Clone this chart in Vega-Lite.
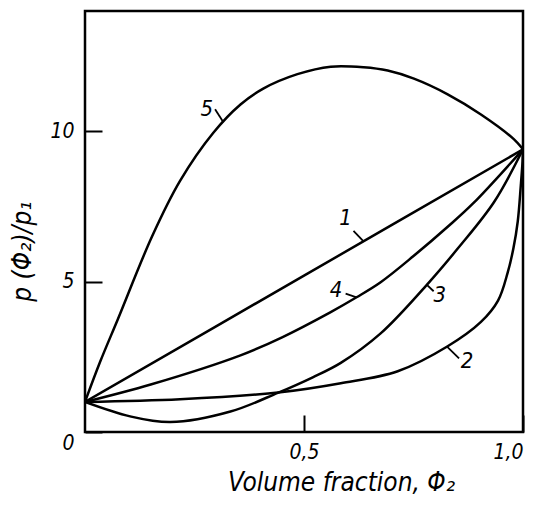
{
  "$schema": "https://vega.github.io/schema/vega-lite/v6.json",
  "width": 438,
  "height": 421,
  "autosize": {"type": "none"},
  "padding": {"left": 85, "top": 11, "right": 13, "bottom": 74},
  "background": "white",
  "config": {
    "view": {"stroke": "black", "strokeWidth": 2.5},
    "font": "DejaVu Sans Condensed, Liberation Sans Narrow, DejaVu Sans",
    "axis": {
      "grid": false,
      "domain": false,
      "tickColor": "black",
      "tickWidth": 2,
      "tickSize": -17,
      "labelColor": "black",
      "labelFont": "DejaVu Sans Condensed, Liberation Sans Narrow, DejaVu Sans",
      "labelFontStyle": "italic",
      "labelFontSize": 21,
      "titleColor": "black",
      "titleFont": "DejaVu Sans Condensed, Liberation Sans Narrow, DejaVu Sans",
      "titleFontStyle": "italic",
      "titleFontWeight": "normal",
      "titleFontSize": 26
    }
  },
  "datasets": {
    "curves": [
      {"curve": "1", "phi": 0.0, "p": 1.0},
      {"curve": "1", "phi": 0.5, "p": 5.2},
      {"curve": "1", "phi": 1.0, "p": 9.4},

      {"curve": "2", "phi": 0.0, "p": 1.0},
      {"curve": "2", "phi": 0.217, "p": 1.09},
      {"curve": "2", "phi": 0.446, "p": 1.32},
      {"curve": "2", "phi": 0.584, "p": 1.62},
      {"curve": "2", "phi": 0.714, "p": 2.02},
      {"curve": "2", "phi": 0.828, "p": 2.85},
      {"curve": "2", "phi": 0.904, "p": 3.66},
      {"curve": "2", "phi": 0.943, "p": 4.37},
      {"curve": "2", "phi": 0.965, "p": 5.3},
      {"curve": "2", "phi": 0.978, "p": 6.1},
      {"curve": "2", "phi": 0.988, "p": 7.0},
      {"curve": "2", "phi": 0.995, "p": 8.2},
      {"curve": "2", "phi": 0.999, "p": 9.0},
      {"curve": "2", "phi": 1.0, "p": 9.4},

      {"curve": "3", "phi": 0.0, "p": 1.0},
      {"curve": "3", "phi": 0.103, "p": 0.52},
      {"curve": "3", "phi": 0.195, "p": 0.33},
      {"curve": "3", "phi": 0.332, "p": 0.68},
      {"curve": "3", "phi": 0.44, "p": 1.3},
      {"curve": "3", "phi": 0.52, "p": 1.82},
      {"curve": "3", "phi": 0.584, "p": 2.3},
      {"curve": "3", "phi": 0.675, "p": 3.28},
      {"curve": "3", "phi": 0.785, "p": 4.97},
      {"curve": "3", "phi": 0.851, "p": 6.1},
      {"curve": "3", "phi": 0.934, "p": 7.65},
      {"curve": "3", "phi": 1.0, "p": 9.4},

      {"curve": "4", "phi": 0.0, "p": 1.0},
      {"curve": "4", "phi": 0.15, "p": 1.58},
      {"curve": "4", "phi": 0.355, "p": 2.55},
      {"curve": "4", "phi": 0.45, "p": 3.15},
      {"curve": "4", "phi": 0.56, "p": 3.98},
      {"curve": "4", "phi": 0.62, "p": 4.48},
      {"curve": "4", "phi": 0.675, "p": 4.98},
      {"curve": "4", "phi": 0.75, "p": 5.85},
      {"curve": "4", "phi": 0.83, "p": 6.85},
      {"curve": "4", "phi": 0.886, "p": 7.6},
      {"curve": "4", "phi": 1.0, "p": 9.4},

      {"curve": "5", "phi": 0.0, "p": 1.0},
      {"curve": "5", "phi": 0.035, "p": 2.35},
      {"curve": "5", "phi": 0.075, "p": 3.75},
      {"curve": "5", "phi": 0.153, "p": 6.5},
      {"curve": "5", "phi": 0.217, "p": 8.35},
      {"curve": "5", "phi": 0.293, "p": 9.95},
      {"curve": "5", "phi": 0.355, "p": 10.89},
      {"curve": "5", "phi": 0.407, "p": 11.42},
      {"curve": "5", "phi": 0.485, "p": 11.9},
      {"curve": "5", "phi": 0.561, "p": 12.15},
      {"curve": "5", "phi": 0.636, "p": 12.13},
      {"curve": "5", "phi": 0.691, "p": 12.02},
      {"curve": "5", "phi": 0.751, "p": 11.75},
      {"curve": "5", "phi": 0.828, "p": 11.23},
      {"curve": "5", "phi": 0.904, "p": 10.56},
      {"curve": "5", "phi": 0.979, "p": 9.74},
      {"curve": "5", "phi": 1.0, "p": 9.4}
    ],
    "leaders": [
      {"curve": "1", "phi": 0.613, "p": 6.69, "phi2": 0.636, "p2": 6.34},
      {"curve": "2", "phi": 0.826, "p": 2.85, "phi2": 0.854, "p2": 2.45},
      {"curve": "3", "phi": 0.78, "p": 4.9, "phi2": 0.796, "p2": 4.68},
      {"curve": "4", "phi": 0.595, "p": 4.6, "phi2": 0.62, "p2": 4.48},
      {"curve": "5", "phi": 0.297, "p": 10.73, "phi2": 0.316, "p2": 10.3}
    ],
    "labels": [
      {"curve": "1", "phi": 0.595, "p": 7.1},
      {"curve": "2", "phi": 0.872, "p": 2.35},
      {"curve": "3", "phi": 0.81, "p": 4.55},
      {"curve": "4", "phi": 0.573, "p": 4.72},
      {"curve": "5", "phi": 0.278, "p": 10.75}
    ]
  },
  "layer": [
    {
      "data": {"name": "curves"},
      "mark": {"type": "line", "color": "black", "strokeWidth": 2.5, "interpolate": "catmull-rom", "clip": true},
      "encoding": {
        "x": {
          "field": "phi",
          "type": "quantitative",
          "scale": {"domain": [0, 1], "nice": false},
          "axis": {
            "values": [0.5, 1],
            "labelExpr": "replace(format(datum.value, '.1f'), '.', ',')",
            "labelPadding": 26,
            "title": "Volume fraction, Φ₂",
            "titlePadding": 7,
            "titleX": 256
          }
        },
        "y": {
          "field": "p",
          "type": "quantitative",
          "scale": {"domain": [0, 14], "nice": false},
          "axis": {
            "values": [0, 5, 10],
            "labelPadding": 28,
            "labelOffset": {"condition": {"test": "datum.value === 0", "value": 11}, "value": 0},
            "title": "p (Φ₂)/p₁",
            "titlePadding": 14,
            "titleY": 240
          }
        },
        "detail": {"field": "curve", "type": "nominal"}
      }
    },
    {
      "data": {"name": "leaders"},
      "mark": {"type": "rule", "color": "black", "strokeWidth": 1.8},
      "encoding": {
        "x": {"field": "phi", "type": "quantitative"},
        "y": {"field": "p", "type": "quantitative"},
        "x2": {"field": "phi2"},
        "y2": {"field": "p2"}
      }
    },
    {
      "data": {"name": "labels"},
      "mark": {"type": "text", "color": "black", "fontSize": 22, "fontStyle": "italic", "align": "center", "baseline": "middle", "font": "DejaVu Sans Condensed, Liberation Sans Narrow, DejaVu Sans"},
      "encoding": {
        "x": {"field": "phi", "type": "quantitative"},
        "y": {"field": "p", "type": "quantitative"},
        "text": {"field": "curve", "type": "nominal"}
      }
    }
  ]
}
